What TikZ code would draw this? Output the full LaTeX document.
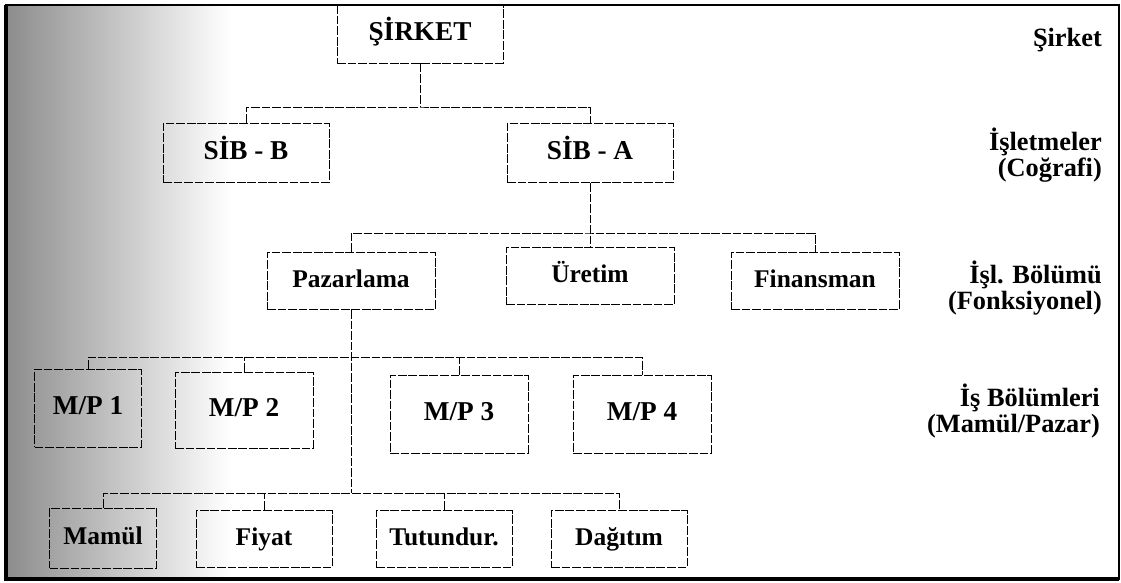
\documentclass[tikz,border=0pt]{standalone}
\usepackage{fontspec}
\setmainfont{Liberation Serif}
\begin{document}
\begin{tikzpicture}[
    x=0.02cm, y=-0.02cm,
    % Styles
    unit/.style={% For the company and the SIBs
        rectangle,
        draw,
        line width=0.55pt,
        dash pattern=on 5pt off 1pt,
        minimum width=3.32cm,
        minimum height=1.18cm,
        text height=2ex,
        text depth=0.5ex,
        font=\fontsize{15.5}{17}\selectfont\bfseries,
        },
    dept/.style={% For functional departments
        rectangle,
        draw,
        line width=0.55pt,
        dash pattern=on 5pt off 1pt,
        minimum width=3.36cm,
        minimum height=1.14cm,
        text height=2ex,
        text depth=0.5ex,
        font=\fontsize{14.5}{17}\selectfont\bfseries,
        },
    mp/.style={% For product/market boxes
        rectangle,
        draw,
        line width=0.55pt,
        dash pattern=on 5pt off 1pt,
        minimum width=2.76cm,
        minimum height=1.56cm,
        text height=2ex,
        text depth=0.5ex,
        font=\fontsize{15.5}{17}\selectfont\bfseries,
        },
    task/.style={% For the bottom row
        rectangle,
        draw,
        line width=0.55pt,
        dash pattern=on 5pt off 1pt,
        minimum width=2.72cm,
        minimum height=1.14cm,
        text height=2ex,
        text depth=0.5ex,
        font=\fontsize{14.5}{17}\selectfont\bfseries,
        },
    level/.style={% Level names on the right
        anchor=east,
        align=right,
        font=\fontsize{15}{12.5}\selectfont\bfseries,
        },
    link/.style={% Plain connectors
        line width=0.55pt,
        dash pattern=on 5pt off 1pt,
        },
    ]
    \useasboundingbox (0,0) rectangle (1121,582);

    % Shaded strip on the left
    \shade [left color=black!45, right color=white] (6,5) rectangle (230,579);

    % Frame
    \draw [line width=0.8pt] (6,5) rectangle (1119,579);
    \draw [line width=2.5pt] (6,5) -- (6,579) -- (1119,579);

    %Draw boxes
    %top rows
    \node [unit, minimum height=1.16cm] (sirket) at (420,34) {ŞİRKET};
    \node [unit] (sibB) at (246,153) {SİB - B};
    \node [unit] (sibA) at (590,153) {SİB - A};
    %functions
    \node [dept] (pazarlama) at (351,281) {Pazarlama};
    \node [dept] (uretim) at (590,276) {Üretim};
    \node [dept] (finansman) at (815,281) {Finansman};
    %product/market
    \node [mp, minimum width=2.14cm] (mp1) at (88,408) {M/P 1};
    \node [mp, minimum height=1.52cm] (mp2) at (244,410) {M/P 2};
    \node [mp] (mp3) at (459,414) {M/P 3};
    \node [mp] (mp4) at (642,414) {M/P 4};
    %bottom row
    \node [task, minimum width=2.14cm, minimum height=1.2cm] (mamul) at (103,538) {Mamül};
    \node [task] (fiyat) at (264,539) {Fiyat};
    \node [task] (tutundur) at (444,539) {Tutundur.};
    \node [task] (dagitim) at (619,539) {Dağıtım};

    % Level names
    \node [level] (lvSirket) at (1108,40) {Şirket};
    \node [level] (lvIsletme) at (1108,155) {İşletmeler\\(Coğrafi)};
    \node [level] (lvIslBolum) at (1108,288) {İşl. Bölümü\\(Fonksiyonel)};
    \node [level] (lvIsBolum) at (1106,411) {İş Bölümleri\\(Mamül/Pazar)};

    % Bus points
    \coordinate (topbus) at (420,107);
    \coordinate (deptbus) at (590,233);
    \coordinate (mpbus) at (351,357);
    \coordinate (taskbus) at (351,493);

    % Draw connectors
    \draw [link] (sirket) -- (topbus);
    \draw [link] (sibB) |- (topbus) -| (sibA);
    \draw [link] (sibA) -- (uretim);
    \draw [link] (pazarlama) |- (deptbus) -| (finansman);
    \draw [link] (mp1) |- (mpbus) -| (mp4);
    \draw [link] (mp2) -- (mp2 |- mpbus);
    \draw [link] (mp3) -- (mp3 |- mpbus);
    \draw [link] (pazarlama) -- (taskbus);
    \draw [link] (mamul) |- (taskbus) -| (dagitim);
    \draw [link] (fiyat) -- (fiyat |- taskbus);
    \draw [link] (tutundur) -- (tutundur |- taskbus);

\end{tikzpicture}
\end{document}
